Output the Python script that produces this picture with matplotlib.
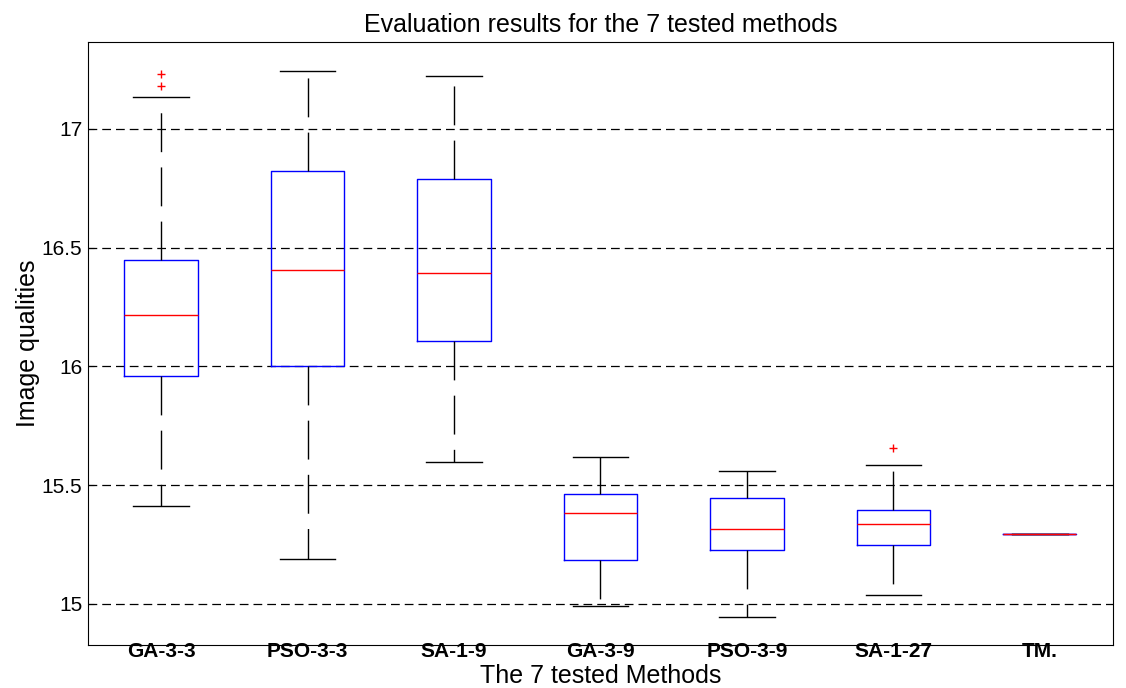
import matplotlib
matplotlib.use("Agg")
import matplotlib.pyplot as plt

plt.rcParams["font.family"] = ["Liberation Sans", "DejaVu Sans"]

methods = ["GA-3-3", "PSO-3-3", "SA-1-9", "GA-3-9", "PSO-3-9", "SA-1-27", "TM."]
whislo = [15.412, 15.189, 15.598, 14.992, 14.945, 15.038, 15.295]
q1 = [15.958, 16.002, 16.105, 15.185, 15.227, 15.248, 15.295]
med = [16.215, 16.404, 16.392, 15.383, 15.316, 15.337, 15.295]
q3 = [16.446, 16.823, 16.789, 15.463, 15.446, 15.396, 15.295]
whishi = [17.135, 17.244, 17.223, 15.619, 15.560, 15.585, 15.295]
outliers = [[17.232, 17.181], [], [], [], [], [15.657], []]

stats = []
for i, name in enumerate(methods):
    stats.append(dict(label=name, whislo=whislo[i], q1=q1[i], med=med[i],
                      q3=q3[i], whishi=whishi[i], fliers=outliers[i]))

fig = plt.figure(figsize=(11.26, 6.88), dpi=100)
ax = fig.add_axes([0.078, 0.0625, 0.9105, 0.8765])

ax.bxp(stats, widths=0.5, showfliers=True,
       boxprops=dict(color="#0000ff", linewidth=1),
       medianprops=dict(color="#ff0000", linewidth=1),
       whiskerprops=dict(color="black", linewidth=1, linestyle=(0, (28, 11))),
       capprops=dict(color="black", linewidth=1),
       capwidths=0.38,
       flierprops=dict(marker="+", markeredgecolor="#ff0000", markersize=6,
                       linestyle="none"))

ax.set_xlim(0.5, 7.5)
ax.set_ylim(14.827, 17.366)
ax.set_yticks([15, 15.5, 16, 16.5, 17])
ax.set_yticklabels(["15", "15.5", "16", "16.5", "17"], fontsize=15)
ax.yaxis.grid(True, color="black", linestyle=(0, (7, 4)), linewidth=0.9)
ax.set_axisbelow(True)
ax.tick_params(axis="x", length=0, pad=-2)
ax.tick_params(axis="y", direction="in", length=4, pad=4)
for lab in ax.get_xticklabels():
    lab.set_fontweight("bold")
    lab.set_fontsize(15)

ax.set_title("Evaluation results for the 7 tested methods", fontsize=18, pad=7)
ax.set_ylabel("Image qualities", fontsize=18, labelpad=1)
ax.set_xlabel("The 7 tested Methods", fontsize=18, labelpad=2)

fig.savefig("out.png", dpi=100)
